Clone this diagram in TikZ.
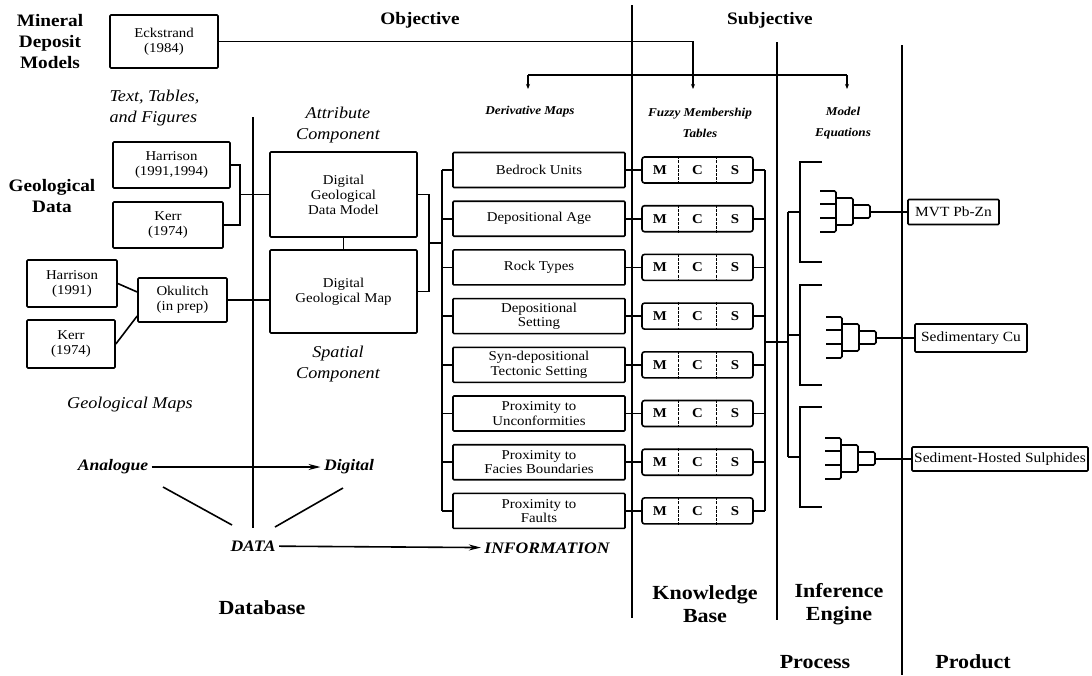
\documentclass[tikz,border=0pt]{standalone}
\usepackage{fontspec}
\setmainfont{Liberation Serif}[FakeStretch=1.1]
\usetikzlibrary{arrows.meta,calc}
\begin{document}
\begin{tikzpicture}[x=1pt,y=-1pt,
  lw/.style={line width=1.6pt},
  box/.style={draw,lw,rounded corners=1pt,align=center,inner sep=0pt,font=\fontsize{13.5}{15}\selectfont},
  dmap/.style={box,minimum width=172pt,minimum height=35pt,font=\fontsize{13.5}{14.5}\selectfont},
  obox/.style={box,font=\fontsize{14}{15}\selectfont},
  mcs/.style={draw,lw,rounded corners=2.5pt,minimum width=111pt,minimum height=26pt,inner sep=0pt},
  mcsl/.style={font=\fontsize{13.5}{14}\selectfont\bfseries},
  mcsd/.style={line width=1pt,dash pattern=on 3pt off 1.2pt},
  div/.style={line width=2.2pt},
  hd/.style={font=\fontsize{17.5}{21}\selectfont\bfseries,align=center},
  bg/.style={font=\fontsize{20}{22.5}\selectfont\bfseries,align=center},
  it/.style={font=\fontsize{16.5}{21}\selectfont\itshape,align=center},
  bit/.style={font=\fontsize{16}{18}\selectfont\bfseries\itshape},
  sit/.style={font=\fontsize{12}{21}\selectfont\bfseries\itshape,align=center},
  arr/.style={lw,-{Stealth[length=12pt,width=6pt]}},
  sarr/.style={lw,-{Stealth[length=5pt,width=4pt]}}]
\useasboundingbox (0,0) rectangle (1092,675);

% dividers
\coordinate (v0t) at (253,117); \coordinate (v0b) at (253,528);
\coordinate (v1t) at (632,5);   \coordinate (v1b) at (632,618);
\coordinate (v2t) at (777,42);  \coordinate (v2b) at (777,620);
\coordinate (v3t) at (902,45);  \coordinate (v3b) at (902,675);
\draw[div] (v0t) -- (v0b);
\draw[div] (v1t) -- (v1b);
\draw[div] (v2t) -- (v2b);
\draw[div] (v3t) -- (v3b);

% top
\node[hd] (mdm) at (50,42) {Mineral\\Deposit\\Models};
\node[box,minimum width=108pt,minimum height=53pt] (eck) at (164,41.5) {Eckstrand\\(1984)};
\node[hd] (obj) at (420,20) {Objective};
\node[hd] (subj) at (770,20) {Subjective};
\coordinate (dl) at (528,75); \coordinate (dj) at (693,75); \coordinate (dr) at (847,75);
\draw[lw] (eck.east) -| (dj);
\draw[lw] (dl) -- (dr);
\foreach \p in {dl,dj,dr} \draw[sarr] (\p) -- ++(0,14);
\node[sit] (dml) at (530,112) {Derivative Maps};
\node[sit] (fmt) at (700,123) {Fuzzy Membership\\Tables};
\node[sit] (meq) at (843,123) {Model\\Equations};

% database
\node[it,align=left,anchor=west] (ttf) at (106,108) {Text, Tables,\\and Figures};
\node[hd] (gd) at (52,196) {Geological\\Data};
\node[box,minimum width=117pt,minimum height=46pt] (h94) at (171.5,165) {Harrison\\(1991,1994)};
\node[box,minimum width=110pt,minimum height=46pt] (k74a) at (168,225) {Kerr\\(1974)};
\node[box,minimum width=90pt,minimum height=47pt] (h91) at (72,283.5) {Harrison\\(1991)};
\node[box,minimum width=88pt,minimum height=48pt] (k74b) at (71,344) {Kerr\\(1974)};
\node[box,minimum width=89pt,minimum height=44pt] (oku) at (182.5,300) {Okulitch\\(in prep)};
\node[it] (attc) at (338,125) {Attribute\\Component};
\node[box,minimum width=147pt,minimum height=85pt] (dgdm) at (343.5,194.5) {Digital\\Geological\\Data Model};
\node[box,minimum width=147pt,minimum height=83pt] (dgm) at (343.5,291.5) {Digital\\Geological Map};
\node[it] (spc) at (338,364) {Spatial\\Component};
\node[it] (gm) at (130,405) {Geological Maps};
\node[bit] (ana) at (113,467) {Analogue};
\node[bit] (dig) at (349,467) {Digital};
\node[bit] (data) at (253,546) {DATA};
\node[bit] (info) at (547,548) {INFORMATION};
\node[bg] (db) at (262,608) {Database};

\coordinate (bx1) at (240,0);
\draw[lw] (h94.east) -- (h94.east -| bx1) -- (k74a.east -| bx1) -- (k74a.east);
\draw[lw] (bx1 |- dgdm.west) -- (dgdm.west);
\draw[lw] (h91.east) -- ([yshift=8pt]oku.west);
\draw[lw] (k74b.east) -- ([yshift=-16pt]oku.west);
\draw[lw] (oku.east) -- (oku.east -| dgm.west);
\draw[lw] (dgdm.south) -- (dgm.north);
\coordinate (bx2) at (429,0);
\coordinate (lbus) at (442,0);
\draw[lw] (dgdm.east) -- (dgdm.east -| bx2) -- (dgm.east -| bx2) -- (dgm.east);
\draw[lw] ($(dgdm.east -| bx2)!0.5!(dgm.east -| bx2)$) -- ($(dgdm.east -| lbus)!0.5!(dgm.east -| lbus)$);

\draw[arr] (ana) -- (dig);
\draw[arr] (data) -- (info);
\coordinate (va1) at (163,487); \coordinate (va2) at (232,525);
\coordinate (vb1) at (343,488); \coordinate (vb2) at (275,527);
\draw[lw] (va1) -- (va2);
\draw[lw] (vb1) -- (vb2);

% derivative maps and fuzzy tables
\coordinate (sbus) at (765,0);
\foreach \i/\y/\txt in {1/170/{Bedrock Units},2/218.7/{Depositional Age},3/267.4/{Rock Types},4/316.1/{Depositional\\Setting},5/364.8/{Syn-depositional\\Tectonic Setting},6/413.5/{Proximity to\\Unconformities},7/462.2/{Proximity to\\Facies Boundaries},8/510.9/{Proximity to\\Faults}}{
  \node[dmap] (m\i) at (539,\y) {\txt};
  \node[mcs] (t\i) at (697.5,\y) {};
  \draw[lw] (m\i.east) -- (t\i.west);
  \draw[lw] (m\i.west -| lbus) -- (m\i.west);
  \draw[lw] (t\i.east) -- (t\i.east -| sbus);
  \draw[mcsd] ($(t\i.north west)!1/3!(t\i.north east)$) -- ($(t\i.south west)!1/3!(t\i.south east)$);
  \draw[mcsd] ($(t\i.north west)!2/3!(t\i.north east)$) -- ($(t\i.south west)!2/3!(t\i.south east)$);
  \node[mcsl] at ($(t\i.west)!1/6!(t\i.east)$) {M};
  \node[mcsl] at (t\i) {C};
  \node[mcsl] at ($(t\i.west)!5/6!(t\i.east)$) {S};
}
\draw[lw] (m1.west -| lbus) -- (m8.west -| lbus);
\draw[lw] (t1.east -| sbus) -- (t8.east -| sbus);

% inference engine
\coordinate (sj) at (765,342); \coordinate (ij) at (788,342);
\draw[lw] (sj) -- (ij);
\coordinate (ibt) at (788,212); \coordinate (ibb) at (788,457);
\draw[lw] (ibt) -- (ibb);
\foreach \c in {212,335,457}{
  \draw[lw] (822,{\c-50}) -- (800,{\c-50}) -- (800,{\c+50}) -- (822,{\c+50});
  \draw[lw] (788,\c) -- (800,\c);
}
\node[obox,minimum width=91pt,minimum height=25pt] (o1) at (953.5,212) {MVT Pb-Zn};
\node[obox,minimum width=112pt,minimum height=28pt] (o2) at (971,338) {Sedimentary Cu};
\node[obox,minimum width=176pt,minimum height=24pt] (o3) at (1000,459) {Sediment-Hosted Sulphides};
\foreach \c/\dx/\o in {212/0/o1,338/6/o2,459/5/o3}{
  \begin{scope}[xshift=\dx pt]
  \draw[lw,rounded corners=1.5pt] (820,{\c-21}) -- (836,{\c-21}) -- (836,{\c+20}) -- (820,{\c+20});
  \draw[lw] (820,{\c-8}) -- (836,{\c-8}) (820,{\c+6}) -- (836,{\c+6});
  \draw[lw,rounded corners=1.5pt] (836,{\c-14}) -- (853,{\c-14}) -- (853,{\c+13}) -- (836,{\c+13});
  \draw[lw,rounded corners=1.5pt] (853,{\c-7}) -- (870,{\c-7}) -- (870,{\c+6}) -- (853,{\c+6});
  \coordinate (tr\o) at (870,\c);
  \end{scope}
  \draw[lw] (tr\o) -- (tr\o -| \o.west);
}

% bottom labels
\node[bg] (kb) at (705,604) {Knowledge\\Base};
\node[bg] (ie) at (839,604) {Inference\\Engine};
\node[bg] (proc) at (815,662) {Process};
\node[bg] (prod) at (973,662) {Product};
\end{tikzpicture}
\end{document}
